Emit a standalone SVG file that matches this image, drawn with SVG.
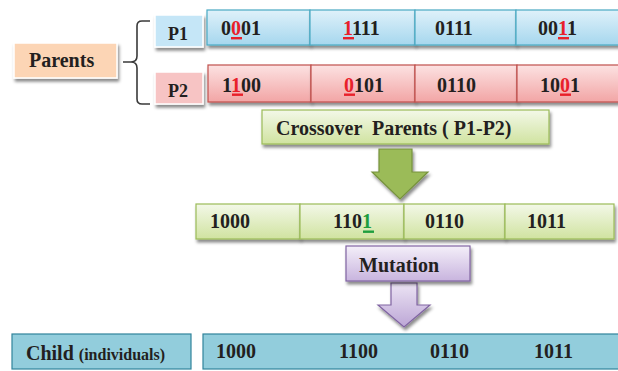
<svg xmlns="http://www.w3.org/2000/svg" width="618" height="371" viewBox="0 0 618 371">
  <defs>
    <linearGradient id="gBlue" x1="0" y1="0" x2="0" y2="1">
      <stop offset="0" stop-color="#dff1fa"/>
      <stop offset="1" stop-color="#a6d7ee"/>
    </linearGradient>
    <linearGradient id="gPink" x1="0" y1="0" x2="0" y2="1">
      <stop offset="0" stop-color="#fce2e2"/>
      <stop offset="1" stop-color="#f2a5a5"/>
    </linearGradient>
    <linearGradient id="gGreen" x1="0" y1="0" x2="0" y2="1">
      <stop offset="0" stop-color="#f3f8e8"/>
      <stop offset="1" stop-color="#d0e3a0"/>
    </linearGradient>
    <linearGradient id="gPurple" x1="0" y1="0" x2="0" y2="1">
      <stop offset="0" stop-color="#f4eff9"/>
      <stop offset="1" stop-color="#c8b4de"/>
    </linearGradient>
    <linearGradient id="gPurpleArrow" x1="0" y1="0" x2="0" y2="1">
      <stop offset="0" stop-color="#ece4f4"/>
      <stop offset="1" stop-color="#bca6d6"/>
    </linearGradient>
    <filter id="shadow" x="-10%" y="-20%" width="120%" height="160%">
      <feDropShadow dx="1.5" dy="3" stdDeviation="1.6" flood-color="#000" flood-opacity="0.45"/>
    </filter>
  </defs>
  <style>
    text { font-family: "Liberation Serif", "Times New Roman", serif; font-weight: bold; font-size: 20px; fill: #231f20; }
    .small { font-size: 16px; }
    .blue { fill: url(#gBlue); stroke: #4aaac4; stroke-width: 1.2; }
    .pink { fill: url(#gPink); stroke: #c0504d; stroke-width: 1.2; }
    .green { fill: url(#gGreen); stroke: #9bbb59; stroke-width: 1.2; }
    .purple { fill: url(#gPurple); stroke: #8064a2; stroke-width: 1.2; }
    .child { fill: #92cddc; stroke: #31849b; stroke-width: 1.2; }
    .label { stroke: #ffffff; stroke-width: 1.5; }
    .ul-red { fill: #e8202a; }
    .red { fill: #e8202a; }
    .ul-green { fill: #1e9e3e; }
    .grn { fill: #1e9e3e; }
  </style>

  <!-- Parents label and brace -->
  <g id="parents">
    <rect x="14" y="43" width="103" height="35" fill="#fcd5b5" class="label" filter="url(#shadow)"/>
    <text x="29" y="67">Parents</text>
  </g>
  <g id="brace">
    <path d="M150,21 H142 Q137,21 137,26 V56 Q137,62 131,62 H123 M131,62 Q137,62 137,68 V99 Q137,104 142,104 H150" fill="none" stroke="#3a3a3a" stroke-width="1.6"/>
  </g>

  <!-- Parent 1 -->
  <g id="p1-label">
    <rect x="155" y="15" width="48" height="32" fill="#c5e6f7" class="label" filter="url(#shadow)"/>
    <text x="168" y="40" class="small" style="font-size:18px">P1</text>
  </g>
  <g id="p1">
    <rect x="207" y="10" width="103" height="35" class="blue" filter="url(#shadow)"/>
    <rect x="310" y="10" width="105" height="35" class="blue" filter="url(#shadow)"/>
    <rect x="415" y="10" width="101" height="35" class="blue" filter="url(#shadow)"/>
    <rect x="516" y="10" width="106" height="35" class="blue" filter="url(#shadow)"/>
    <text x="221" y="35">0<tspan class="red">0</tspan>01</text>
    <rect x="231" y="37" width="11" height="2.4" class="ul-red"/>
    <text x="343" y="35"><tspan class="red">1</tspan>111</text>
    <rect x="343" y="37" width="11" height="2.4" class="ul-red"/>
    <text x="435" y="35">0111</text>
    <text x="538" y="35">00<tspan class="red">1</tspan>1</text>
    <rect x="558" y="37" width="11" height="2.4" class="ul-red"/>
  </g>

  <!-- Parent 2 -->
  <g id="p2-label">
    <rect x="155" y="72" width="48" height="32" fill="#f7c4c4" class="label" filter="url(#shadow)"/>
    <text x="168" y="97" style="font-size:18px">P2</text>
  </g>
  <g id="p2">
    <rect x="208" y="65" width="103" height="37" class="pink" filter="url(#shadow)"/>
    <rect x="311" y="65" width="104" height="37" class="pink" filter="url(#shadow)"/>
    <rect x="415" y="65" width="102" height="37" class="pink" filter="url(#shadow)"/>
    <rect x="517" y="65" width="105" height="37" class="pink" filter="url(#shadow)"/>
    <text x="222" y="92">1<tspan class="red">1</tspan>00</text>
    <rect x="232" y="93.5" width="11" height="2.4" class="ul-red"/>
    <text x="344" y="92"><tspan class="red">0</tspan>101</text>
    <rect x="344" y="93.5" width="11" height="2.4" class="ul-red"/>
    <text x="437" y="92">0110</text>
    <text x="540" y="92">10<tspan class="red">0</tspan>1</text>
    <rect x="560" y="93.5" width="11" height="2.4" class="ul-red"/>
  </g>

  <!-- Crossover step -->
  <g id="crossover">
    <rect x="262" y="110" width="287" height="34" class="green" filter="url(#shadow)"/>
    <text x="276" y="135" xml:space="preserve">Crossover  Parents ( P1-P2)</text>
  </g>

  <!-- Step arrows -->
  <g id="connectors">
    <path d="M379,149 H412 V172 H428 L400,199 L372,172 H379 Z" fill="#9bbb59" stroke="#76923c" stroke-width="1.2" filter="url(#shadow)"/>
    <path d="M391,283 H417 V305 H430 L404,327 L378,305 H391 Z" fill="url(#gPurpleArrow)" stroke="#8064a2" stroke-width="1.2" filter="url(#shadow)"/>
  </g>

  <!-- Offspring after crossover -->
  <g id="offspring">
    <rect x="196" y="204" width="104" height="35" class="green" filter="url(#shadow)"/>
    <rect x="300" y="204" width="104" height="35" class="green" filter="url(#shadow)"/>
    <rect x="404" y="204" width="101" height="35" class="green" filter="url(#shadow)"/>
    <rect x="505" y="204" width="109" height="35" class="green" filter="url(#shadow)"/>
    <text x="210" y="228">1000</text>
    <text x="333" y="228">110<tspan class="grn">1</tspan></text>
    <rect x="363" y="230.5" width="11" height="2.4" class="ul-green"/>
    <text x="425" y="228">0110</text>
    <text x="527" y="228">1011</text>
  </g>

  <!-- Mutation step -->
  <g id="mutation">
    <rect x="346" y="246" width="124" height="35" class="purple" filter="url(#shadow)"/>
    <text x="359" y="272">Mutation</text>
  </g>

  <!-- Child -->
  <g id="child-label">
    <rect x="12" y="334" width="179" height="35" class="child"/>
    <text x="26" y="360">Child <tspan class="small">(individuals)</tspan></text>
  </g>
  <g id="child">
    <rect x="203" y="334" width="420" height="35" class="child"/>
    <text x="216" y="358">1000</text>
    <text x="339" y="358">1100</text>
    <text x="430" y="358">0110</text>
    <text x="534" y="358">1011</text>
  </g>
</svg>
